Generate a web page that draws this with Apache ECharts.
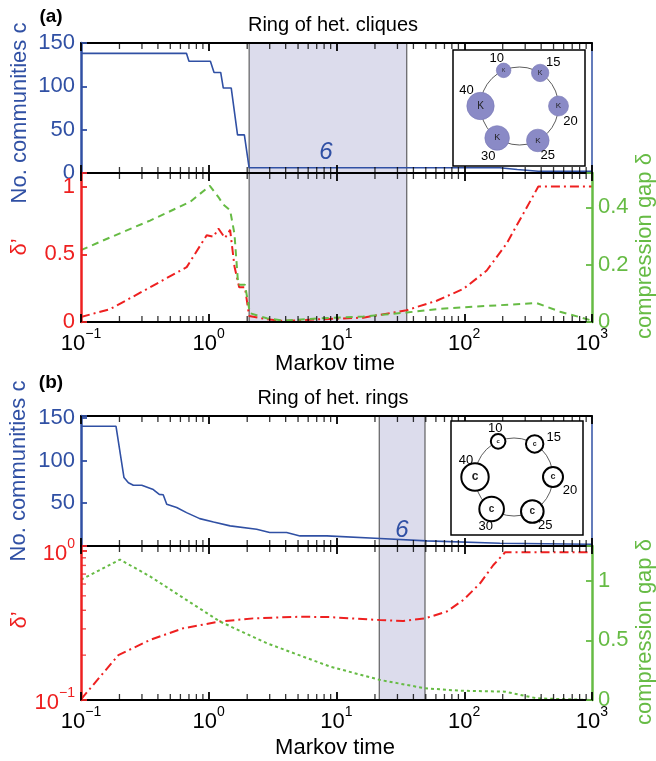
<!DOCTYPE html>
<html>
<head>
<meta charset="utf-8">
<script src="https://cdn.jsdelivr.net/npm/echarts@6.0.0/dist/echarts.min.js"></script>
<style>
  html, body { margin: 0; padding: 0; background: #fff; }
  #chart { width: 656px; height: 761px; }
</style>
</head>
<body>
<div id="chart"></div>
<script>
// values, [markov time, value]
const commA = [[0.1, 138], [0.67, 138], [0.7, 129], [1.03, 129], [1.1, 116], [1.24, 116], [1.3, 98], [1.5, 98],
  [1.68, 44], [1.9, 44], [2.07, 6], [190, 6], [260, 4], [380, 2], [1000, 2]];
const deltaA = [[0.1, 0.037], [0.169, 0.095], [0.347, 0.256], [0.672, 0.405], [0.963, 0.64], [1.09, 0.63], [1.19, 0.69],
  [1.34, 0.62], [1.47, 0.68], [1.59, 0.41], [1.73, 0.256], [1.92, 0.256], [2.07, 0.045], [2.84, 0.02], [3.8, 0.008],
  [7.4, 0.02], [16.2, 0.032], [35.4, 0.087], [60.8, 0.157], [98.4, 0.244], [150, 0.38], [215, 0.58], [290, 0.8],
  [380, 1.0], [1000, 1.0]];
const gapA = [[0.1, 0.251], [0.169, 0.295], [0.347, 0.354], [0.713, 0.419], [1.02, 0.475], [1.19, 0.436], [1.3, 0.41],
  [1.47, 0.39], [1.59, 0.307], [1.7, 0.13], [1.92, 0.13], [2.1, 0.031], [2.84, 0.013], [3.8, 0.005], [7.4, 0.013],
  [16.2, 0.019], [35.4, 0.033], [60.8, 0.045], [150, 0.056], [369, 0.066], [562, 0.036], [1000, 0.005]];
const commB = [[0.1, 140], [0.188, 140], [0.217, 80], [0.235, 74], [0.257, 71], [0.299, 71], [0.368, 66], [0.41, 60.4],
  [0.44, 60], [0.469, 48.8], [0.561, 45], [0.67, 39], [0.85, 32], [1.09, 28], [1.47, 23.5], [2.37, 19.6], [3.0, 15.7],
  [4.07, 15.7], [5.18, 11.8], [8.4, 11.8], [21.9, 8.7], [50.8, 6], [190, 3.3], [1000, 2]];
const deltaB = [[0.1, 0.101], [0.196, 0.2], [0.347, 0.253], [0.632, 0.303], [1.22, 0.336], [2.23, 0.353], [5.18, 0.362],
  [8.9, 0.36], [21.9, 0.344], [33.3, 0.339], [49.3, 0.353], [72.8, 0.392], [98.4, 0.469], [133, 0.607], [169, 0.805],
  [209, 0.98], [1000, 0.98]];
const gapB = [[0.1, 1.008], [0.202, 1.176], [0.347, 1.036], [0.632, 0.855], [1.22, 0.658], [2.84, 0.476], [8.9, 0.28],
  [21.9, 0.168], [49.3, 0.098], [92.7, 0.078], [209, 0.07], [369, 0.014], [1000, 0]];

// shaded ranges (markov time)
const shadeA = [2.07, 35.5];
const shadeB = [21.6, 49.3];

// ticks
const xTickExp = [-1, 0, 1, 2, 3];
const minorMult = [2, 3, 4, 5, 6, 7, 8, 9];
const commTicks = [0, 50, 100, 150];
const deltaTicksA = [0, 0.5, 1];
const gapTicksA = [0, 0.2, 0.4];
const gapTicksB = [0, 0.5, 1];
const deltaTicksB = [0.1, 1];

const nodeLabels = ['10', '15', '20', '25', '30', '40'];

const BLUE = '#3050a4';
const RED = '#ee2020';
const GREEN = '#66bb44';
const SHADE = '#dcdcec';
const FONT = '"Liberation Sans", Arial, Helvetica, sans-serif';

const chart = echarts.init(document.getElementById('chart'));

const pow10 = v => {
  const e = Math.round(Math.log10(v));
  return '{b|10}{s|' + (e < 0 ? '\u2212' + (-e) : e) + '}';
};
const supRich = color => ({
  b: { fontSize: 22, fontFamily: FONT, color: color, lineHeight: 28, verticalAlign: 'bottom' },
  s: { fontSize: 14, fontFamily: FONT, color: color, verticalAlign: 'top' }
});

const xAx = (g, pos, labels) => ({
  type: 'log', logBase: 10, gridIndex: g, position: pos, min: 0.1, max: 1000, z: 5,
  axisLine: { show: true, onZero: false, lineStyle: { color: '#000', width: 2.2 } },
  axisTick: { show: true, inside: true, length: 8, lineStyle: { color: '#000', width: 1.8 } },
  splitLine: { show: false },
  axisLabel: { show: labels, margin: 5, formatter: pow10, rich: supRich('#000'), showMinLabel: true, showMaxLabel: true }
});

const yAx = (g, pos, color, min, max, ticks, lw, labels, fmt) => ({
  type: 'value', gridIndex: g, position: pos, min: min, max: max, interval: ticks ? ticks[1] - ticks[0] : undefined, z: 5,
  axisLine: { show: true, onZero: false, lineStyle: { color: color, width: lw } },
  axisTick: { show: !!labels, inside: true, length: 6, lineStyle: { color: color, width: 1.8 } },
  splitLine: { show: false },
  axisLabel: {
    show: !!labels, margin: 6, color: color, fontSize: 22, fontFamily: FONT,
    formatter: v => (ticks && ticks.some(t => Math.abs(t - v) < 1e-9)) ? fmt(v) : ''
  }
});

const lineS = (data, xi, yi, color, type, width) => ({
  type: 'line', xAxisIndex: xi, yAxisIndex: yi, data: data, showSymbol: false, symbol: 'none',
  silent: true, z: 3, animation: false,
  lineStyle: { color: color, width: width, type: type }
});

const shade = range => ({
  silent: true,
  itemStyle: { color: SHADE, borderColor: '#444', borderWidth: 1 },
  data: [[{ xAxis: range[0] }, { xAxis: range[1] }]]
});

const minorX = [];
xTickExp.slice(0, -1).forEach(e => minorMult.forEach(m => minorX.push(m * Math.pow(10, e))));

// log minor ticks on the top and bottom frame of each panel
const minorTicks = (xi, yi, yMin, yMax) => [
  { type: 'scatter', xAxisIndex: xi, yAxisIndex: yi, data: minorX.map(x => [x, yMin]), symbol: 'rect',
    symbolSize: [1.3, 6], symbolOffset: [0, -3], itemStyle: { color: '#000' }, silent: true, clip: false, z: 6, animation: false },
  { type: 'scatter', xAxisIndex: xi, yAxisIndex: yi, data: minorX.map(x => [x, yMax]), symbol: 'rect',
    symbolSize: [1.3, 6], symbolOffset: [0, 3], itemStyle: { color: '#000' }, silent: true, clip: false, z: 6, animation: false }
];

// inset ring diagrams
const ringAngles = [-114, -58, 0, 62, 125, 180];
const ringRadii = [7.3, 8.7, 10, 11.3, 12.3, 13.7];
const inset = (box, cx, cy, filled, letter, labOff) => {
  const els = [
    { type: 'rect', shape: { x: box[0], y: box[1], width: box[2], height: box[3] },
      style: { fill: '#fff', stroke: '#000', lineWidth: 1.5 }, z: 20 },
    { type: 'circle', shape: { cx: cx, cy: cy, r: 39 }, style: { fill: 'none', stroke: '#333', lineWidth: 0.8 }, z: 21 }
  ];
  ringAngles.forEach((a, i) => {
    const t = a * Math.PI / 180;
    const x = cx + 39 * Math.cos(t), y = cy + 39 * Math.sin(t);
    const r = ringRadii[i];
    els.push({ type: 'circle', shape: { cx: x, cy: y, r: r }, z: 22,
      style: filled ? { fill: '#8a8ac6', stroke: '#7777b5', lineWidth: 0.6 } : { fill: '#fff', stroke: '#000', lineWidth: 2 } });
    els.push({ type: 'text', x: x, y: y, z: 23,
      style: { text: letter, fill: '#222', font: (filled ? '' : 'bold ') + Math.round(r * (filled ? 0.75 : 0.85)) + 'px ' + FONT,
        align: 'center', verticalAlign: 'middle' } });
    els.push({ type: 'text', x: x + labOff[i][0], y: y + labOff[i][1], z: 23,
      style: { text: nodeLabels[i], fill: '#000', font: '13px ' + FONT, align: 'center', verticalAlign: 'middle' } });
  });
  return els;
};

const txt = (x, y, s, font, color, rot) => ({
  type: 'text', x: x, y: y, rotation: rot || 0, z: 30,
  style: { text: s, fill: color, font: font, align: 'center', verticalAlign: 'middle' }
});

const option = {
  backgroundColor: '#fff',
  animation: false,
  grid: [
    { left: 81, right: 64, top: 43, height: 130 },
    { left: 81, right: 64, top: 173, height: 149 },
    { left: 81, right: 64, top: 416, height: 130 },
    { left: 81, right: 64, top: 546, height: 154 }
  ],
  xAxis: [
    xAx(0, 'bottom', false), xAx(0, 'top', false),
    xAx(1, 'bottom', true), xAx(1, 'top', false),
    xAx(2, 'bottom', false), xAx(2, 'top', false),
    xAx(3, 'bottom', true), xAx(3, 'top', false)
  ],
  yAxis: [
    yAx(0, 'left', BLUE, 0, 150, commTicks, 2.5, true, v => String(v)),
    yAx(0, 'right', BLUE, 0, 150, null, 1.5, false),
    yAx(1, 'left', RED, 0, 1.1, deltaTicksA, 2.5, true, v => String(v)),
    yAx(1, 'right', GREEN, 0, 0.52, gapTicksA, 2.5, true, v => String(v)),
    yAx(2, 'left', BLUE, 0, 152, commTicks, 2.5, true, v => (v === 0 ? '' : String(v))),
    yAx(2, 'right', BLUE, 0, 152, null, 1.5, false),
    {
      type: 'log', logBase: 10, gridIndex: 3, position: 'left', min: 0.1, max: 1.08, z: 5,
      axisLine: { show: true, onZero: false, lineStyle: { color: RED, width: 2.5 } },
      axisTick: { show: true, inside: true, length: 6, lineStyle: { color: RED, width: 1.8 } },
      splitLine: { show: false },
      axisLabel: {
        margin: 6, rich: supRich(RED),
        formatter: v => deltaTicksB.some(t => Math.abs(t - v) < 1e-6) ? pow10(v) : ''
      }
    },
    yAx(3, 'right', GREEN, 0, 1.29, gapTicksB, 2.5, true, v => String(v))
  ],
  series: [
    Object.assign(lineS(commA, 0, 0, BLUE, 'solid', 1.6), { markArea: shade(shadeA) }),
    Object.assign(lineS(deltaA, 2, 2, RED, [9, 4, 2, 4], 2), { markArea: shade(shadeA) }),
    lineS(gapA, 2, 3, GREEN, [7, 5], 2),
    Object.assign(lineS(commB, 4, 4, BLUE, 'solid', 1.6), { markArea: shade(shadeB) }),
    Object.assign(lineS(deltaB, 6, 6, RED, [9, 4, 2, 4], 2), { markArea: shade(shadeB) }),
    lineS(gapB, 6, 7, GREEN, [3, 3], 2),
    ...minorTicks(0, 0, 0, 150),
    ...minorTicks(2, 2, 0, 1.1),
    ...minorTicks(4, 4, 0, 152),
    ...minorTicks(6, 6, 0.1, 1.08),
    { type: 'scatter', xAxisIndex: 6, yAxisIndex: 6, data: minorMult.map(m => [0.1, m / 10]), symbol: 'rect',
      symbolSize: [5, 1.4], symbolOffset: [2.5, 0], itemStyle: { color: RED }, silent: true, clip: false, z: 6 }
  ],
  graphic: [
    txt(51, 17, '(a)', 'bold 19px ' + FONT, '#000'),
    txt(51, 383, '(b)', 'bold 19px ' + FONT, '#000'),
    txt(333, 25, 'Ring of het. cliques', '20px ' + FONT, '#000'),
    txt(333, 398, 'Ring of het. rings', '20px ' + FONT, '#000'),
    txt(335, 364, 'Markov time', '22px ' + FONT, '#000'),
    txt(335, 748, 'Markov time', '22px ' + FONT, '#000'),
    txt(20, 113, 'No. communities c', '22px ' + FONT, BLUE, Math.PI / 2),
    txt(20, 247, 'δ\u2019', '22px ' + FONT, RED, Math.PI / 2),
    txt(19, 471, 'No. communities c', '22px ' + FONT, BLUE, Math.PI / 2),
    txt(20, 620, 'δ\u2019', '22px ' + FONT, RED, Math.PI / 2),
    txt(645, 246, 'compression gap δ', '22px ' + FONT, GREEN, Math.PI / 2),
    txt(645, 632, 'compression gap δ', '22px ' + FONT, GREEN, Math.PI / 2),
    txt(326, 152, '6', 'italic 24px ' + FONT, BLUE),
    txt(402, 530, '6', 'italic 24px ' + FONT, BLUE),
    ...inset([453, 50, 132, 116], 519.5, 106, true, 'K',
      [[-7, -12], [13, -11], [12, 15], [10, 15], [-9, 18], [-14, -16]]),
    ...inset([451, 421, 132, 114], 514, 477, false, 'c',
      [[-3, -13], [19, -7], [17, 13], [13, 14], [-6, 17], [-9, -17]])
  ]
};

chart.setOption(option);
</script>
</body>
</html>
